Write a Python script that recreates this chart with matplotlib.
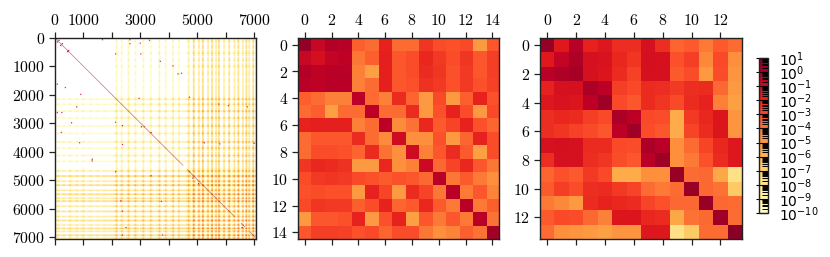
import numpy as np
import matplotlib
matplotlib.use("Agg")
import matplotlib.pyplot as plt
from matplotlib.colors import LogNorm
from matplotlib.ticker import LogLocator, LogFormatterMathtext, NullFormatter

plt.rcParams['mathtext.fontset'] = 'cm'

# log10 of the two dense matrices
mid_log = [
    [0.5, -0.8, -0.2, -0.3, -3.5, -3.8, -2.0, -3.8, -3.8, -2.5, -3.1, -3.2, -3.0, -5.0, -3.3],
    [-0.8, -1.2, -0.6, -0.5, -4.0, -3.5, -1.9, -3.3, -3.1, -2.1, -2.6, -3.1, -2.5, -3.3, -2.7],
    [-0.2, -0.5, -0.3, -0.3, -4.2, -5.2, -1.9, -3.3, -3.1, -2.2, -2.5, -3.2, -2.6, -3.3, -2.7],
    [-0.3, -0.5, -0.3, -0.3, -4.2, -3.8, -1.9, -3.3, -3.2, -2.4, -2.6, -3.2, -2.6, -3.2, -2.8],
    [-3.5, -3.8, -4.2, -4.2, -0.4, -3.8, -4.2, -2.2, -3.6, -5.0, -3.0, -5.0, -3.5, -2.0, -3.2],
    [-3.8, -3.5, -5.2, -3.8, -3.8, -0.4, -3.8, -3.8, -2.2, -5.0, -3.2, -2.0, -3.1, -5.0, -3.0],
    [-2.0, -1.9, -1.9, -1.9, -4.2, -3.8, -0.4, -4.5, -3.9, -2.1, -3.4, -2.9, -2.0, -3.2, -3.6],
    [-3.8, -3.3, -3.3, -3.3, -2.2, -3.8, -4.5, -1.0, -4.6, -4.6, -3.2, -5.0, -3.6, -2.0, -3.1],
    [-3.8, -3.1, -3.1, -3.2, -3.6, -2.2, -3.9, -4.6, -1.0, -4.2, -3.3, -2.2, -3.4, -5.2, -3.1],
    [-2.5, -2.1, -2.2, -2.4, -5.0, -5.0, -2.1, -4.6, -4.2, -0.9, -3.7, -2.9, -2.1, -3.3, -4.0],
    [-3.1, -2.6, -2.5, -2.6, -3.0, -3.2, -3.4, -3.2, -3.3, -3.7, -0.3, -4.0, -3.4, -4.1, -4.6],
    [-3.2, -3.1, -3.2, -3.2, -5.0, -2.0, -2.9, -5.0, -2.2, -2.9, -4.0, -0.3, -4.1, -3.3, -4.3],
    [-3.0, -2.5, -2.6, -2.6, -3.5, -3.1, -2.0, -3.6, -3.4, -2.1, -3.4, -4.1, -0.3, -4.1, -3.5],
    [-5.0, -3.3, -3.3, -3.2, -2.0, -5.0, -3.2, -2.0, -5.2, -3.3, -4.1, -3.3, -4.1, -0.3, -3.9],
    [-3.3, -2.7, -2.7, -2.8, -3.2, -3.0, -3.6, -3.1, -3.1, -4.0, -4.6, -4.3, -3.5, -3.9, 0.2],
]
right_log = [
    [0.5, -1.7, -0.3, -2.0, -1.6, -2.3, -2.3, -1.3, -2.3, -3.6, -3.4, -4.1, -3.4, -3.8],
    [-1.7, -0.6, -0.1, -1.3, -1.4, -2.1, -2.5, -1.2, -1.3, -3.2, -2.7, -4.4, -3.0, -4.6],
    [-0.3, -0.1, 0.1, -1.3, -1.5, -2.2, -2.8, -1.3, -1.3, -3.4, -3.1, -5.0, -3.1, -4.8],
    [-2.0, -1.3, -1.3, 0.0, -0.4, -2.7, -3.0, -2.2, -2.3, -2.6, -2.3, -2.2, -3.7, -5.0],
    [-1.6, -1.4, -1.5, -0.4, 0.3, -3.0, -3.3, -2.2, -2.5, -3.0, -2.2, -2.0, -4.2, -5.2],
    [-2.3, -2.1, -2.2, -2.7, -3.0, 0.0, -0.4, -3.0, -3.1, -5.7, -2.6, -2.1, -1.5, -4.8],
    [-2.3, -2.5, -2.8, -3.0, -3.3, -0.4, 0.3, -3.1, -3.3, -5.7, -2.9, -2.2, -1.5, -4.8],
    [-1.3, -1.2, -1.3, -2.2, -2.2, -3.0, -3.1, 0.0, -0.3, -4.6, -3.8, -2.9, -2.1, -1.6],
    [-2.3, -1.3, -1.3, -2.3, -2.5, -3.1, -3.3, -0.3, 0.3, -4.6, -4.1, -3.2, -2.2, -1.6],
    [-3.6, -3.2, -3.4, -2.6, -3.0, -5.7, -5.7, -4.6, -4.6, 0.4, -3.8, -3.7, -5.5, -7.8],
    [-3.4, -2.7, -3.1, -2.3, -2.2, -2.6, -2.9, -3.8, -4.1, -3.8, 0.4, -3.7, -3.9, -6.7],
    [-4.1, -4.4, -5.0, -2.2, -2.0, -2.1, -2.2, -2.9, -3.2, -3.7, -3.7, 0.4, -3.7, -3.8],
    [-3.4, -3.0, -3.1, -3.7, -4.2, -1.5, -1.5, -2.1, -2.2, -5.5, -3.9, -3.7, 0.3, -3.8],
    [-3.8, -4.6, -4.8, -5.0, -5.2, -4.8, -4.8, -1.6, -1.6, -7.8, -6.7, -3.8, -3.8, 0.7],
]

# big sparse matrix: index bands, stripes (index, log10 weight), diagonal runs, single entries
size = 7070
band_a = (0, 2050)
band_b = (2050, 4560)
band_c = (4560, 7070)
base_a, base_b, base_c = -6.0, -5.5, -5.0
stripes_a = [(100, -5.0), (300, -5.4), (520, -5.0), (760, -5.2), (980, -5.0), (1240, -5.4), (1480, -5.6), (1720, -5.6)]
stripes_b = [(2140, -3.7), (2320, -4.0), (2560, -3.6), (2800, -4.0), (3080, -3.8), (3340, -4.0), (3640, -3.5), (3860, -3.9), (4120, -3.7), (4320, -4.0)]
stripes_c = [(4678, -3.0), (4854, -1.8), (5030, -2.7), (5170, -1.7), (5346, -2.7), (5487, -1.8), (5628, -2.7), (5733, -1.8),
             (5909, -2.8), (6085, -2.2), (6261, -2.8), (6400, -2.0), (6577, -2.8), (6683, -1.9), (6789, -2.8), (6930, -1.8), (7035, -2.8)]
diag_runs = [(0, 300, 0.3), (300, 1000, 0.0), (1000, 1500, -0.4), (1500, 2050, 0.3), (2050, 2650, 0.5),
             (2650, 3150, 0.7), (3150, 3500, 0.0), (3500, 4200, 0.3), (4200, 4300, 1.0), (4300, 4480, -0.8),
             (4620, 4760, 0.8), (4760, 5300, 0.6), (5300, 5600, 0.8), (5600, 6000, 0.2), (6000, 6280, 0.0),
             (6500, 6640, 0.8), (6800, 7000, 0.6)]
sparse_row = [60, 120, 180, 240, 50, 430, 470, 50, 60, 180, 175, 550, 550, 810, 960, 1255, 1220, 1600, 1720, 1960, 2400, 2600, 2600,
              2960, 3300, 3660, 3720, 4250, 4300, 2100, 2950, 3070, 3720, 3100, 3100, 3310, 4680, 5710, 6060, 6650, 6900, 4830,
              5720, 6900, 2076, 2300, 2360, 2400, 3660, 3700, 3680, 4680, 4900, 5100, 6650]
sparse_col = [120, 60, 240, 180, 1640, 470, 430, 2615, 3285, 2615, 2960, 2110, 2990, 3670, 4100, 4280, 4400, 60, 350, 880, 740, 60, 230,
              560, 200, 840, 2350, 1290, 1290, 2930, 2110, 2350, 2350, 3000, 3100, 3340, 2110, 2290, 2350, 2460, 2340, 3340,
              3700, 3750, 4690, 5700, 6050, 6700, 5200, 5750, 6950, 4690, 4800, 5000, 6520]
sparse_log = [0.2, 0.2, -0.4, -0.4, -1.2, -0.4, -0.4, -0.8, -1.2, -1.2, -1.2, -1.6, -1.4, -0.8, -1.2, -0.8, -1.2, -0.8, -1.2, -1.2, -0.4, -0.4, -1.2,
              -0.4, -1.2, -1.2, -1.2, -0.4, -0.8, -0.8, -1.2, -0.6, -1.2, 0.2, 0.4, -0.8, -0.4, -0.6, -1.2, -0.6, -0.8, -0.4,
              -0.8, -0.8, 0.0, -1.2, -1.2, -0.6, -0.8, -0.8, -0.6, 0.5, 0.5, 0.5, 0.5]

x_ticks_left = [0, 1000, 2000, 3000, 4000, 5000, 6000, 7000]
x_labels_left = ['$0$', '$1000$', '', '$3000$', '', '$5000$', '', '$7000$']
y_labels_left = ['$0$', '$1000$', '$2000$', '$3000$', '$4000$', '$5000$', '$6000$', '$7000$']

W, H = 830, 257
norm = LogNorm(vmin=1e-10, vmax=1e1)
cmap = plt.get_cmap('YlOrRd').copy()
cmap.set_bad('white')
cmap.set_under('white')


def band_profile(prof, band, base, stripes, step):
    prof[band[0] // step:band[1] // step] = base
    for i, w in stripes:
        prof[i // step - 1:i // step + 2] = w
    # thin white gaps half way between stripes
    for (a, _), (b, _) in zip(stripes[:-1], stripes[1:]):
        prof[(a + b) // 2 // step] = np.nan


def build_sparse():
    step = 20
    n = size // step
    prof = np.full(n, np.nan)
    band_profile(prof, band_a, base_a, stripes_a, step)
    band_profile(prof, band_b, base_b, stripes_b, step)
    band_profile(prof, band_c, base_c, stripes_c, step)
    m = prof[:, None] + prof[None, :]
    # the first block holds almost nothing
    m[:band_a[1] // step, :band_a[1] // step] = np.nan
    for a, b, v in diag_runs:
        for k in range(a // step, b // step):
            m[k, k] = v
    for r, c, v in zip(sparse_row, sparse_col, sparse_log):
        m[r // step:r // step + 2, c // step:c // step + 2] = v
    return 10.0 ** m, step


def pixel_axes(fig, left, right, top, bottom):
    return fig.add_axes([left / W, 1 - bottom / H, (right - left) / W, (bottom - top) / H])


def style(ax):
    ax.tick_params(which='major', top=True, bottom=True, left=True, right=False, labeltop=True, labelbottom=False,
                   labelleft=True, length=4, width=0.9, labelsize=11.4, pad=3, color='#222222')
    for s in ax.spines.values():
        s.set_linewidth(1.0)
        s.set_color('#222222')


fig = plt.figure(figsize=(W / 100, H / 100), dpi=100)

ax1 = pixel_axes(fig, 55, 256, 38, 239)
sparse, step = build_sparse()
ax1.imshow(sparse, cmap=cmap, norm=norm, interpolation='antialiased', interpolation_stage='rgba',
           extent=[0, size, size, 0], aspect='auto')
ax1.set_xticks(x_ticks_left)
ax1.set_xticklabels(x_labels_left)
ax1.set_yticks(x_ticks_left)
ax1.set_yticklabels(y_labels_left)
style(ax1)

ax2 = pixel_axes(fig, 298, 499, 38, 239)
ax2.imshow(10.0 ** np.array(mid_log), cmap=cmap, norm=norm, aspect='auto', interpolation='nearest')
ax2.set_xticks(range(0, 15, 2))
ax2.set_xticklabels(['$%d$' % i for i in range(0, 15, 2)])
ax2.set_yticks(range(0, 15, 2))
ax2.set_yticklabels(['$%d$' % i for i in range(0, 15, 2)])
style(ax2)

ax3 = pixel_axes(fig, 540, 742, 38, 239)
im = ax3.imshow(10.0 ** np.array(right_log), cmap=cmap, norm=norm, aspect='auto', interpolation='nearest')
ax3.set_xticks(range(0, 14, 2))
ax3.set_xticklabels(['$%d$' % i for i in range(0, 14, 2)])
ax3.set_yticks(range(0, 14, 2))
ax3.set_yticklabels(['$%d$' % i for i in range(0, 14, 2)])
style(ax3)

cax = pixel_axes(fig, 759, 768, 58, 213)
cb = fig.colorbar(im, cax=cax)
cb.ax.yaxis.set_major_locator(LogLocator(base=10, numticks=15))
cb.ax.yaxis.set_major_formatter(LogFormatterMathtext())
cb.ax.yaxis.set_minor_locator(LogLocator(base=10, subs=np.arange(2, 10), numticks=15))
cb.ax.yaxis.set_minor_formatter(NullFormatter())
cb.ax.tick_params(which='major', direction='in', length=9, width=0.8, labelsize=10, pad=8, color='black')
cb.ax.tick_params(which='minor', direction='in', length=4.5, width=0.7, color='black')
cb.outline.set_linewidth(1.0)
cb.outline.set_edgecolor('#222222')

fig.savefig('out.png', dpi=100)
